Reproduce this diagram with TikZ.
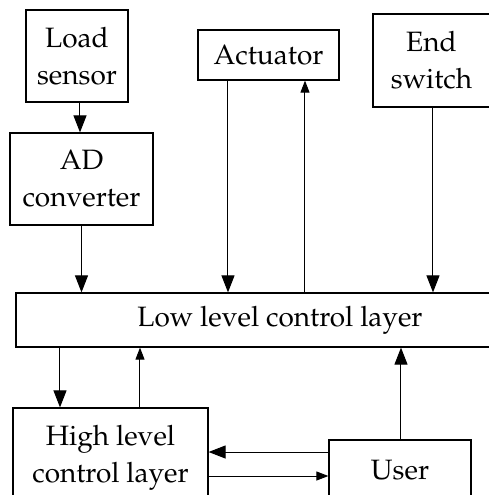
\documentclass[tikz,border=0pt]{standalone}
\usepackage[T1]{fontenc}
\usepackage{mathpazo}
\usetikzlibrary{shapes}
\usetikzlibrary{arrows.meta}
\tikzset{
	blocknode/.style = {rectangle, draw=black, line width=0.6pt, align=center,
		inner sep=0pt, text centered, font=\fontsize{14}{18.5}\selectfont},
	flow_big/.style = {-{Triangle[length=8.5pt,width=6.5pt]}, line width=0.5pt},% signal, big tip
	flow_small/.style = {-{Triangle[length=6pt,width=4.5pt]}, line width=0.5pt}% signal, small tip
}
\begin{document}
\begin{tikzpicture}[x=0.5pt,y=-0.5pt]
	\useasboundingbox (0,0) rectangle (489,495);
	\node [blocknode, minimum width=51pt, minimum height=46pt] (load) at (77,56) {Load\\sensor};
	\node [blocknode, minimum width=71.5pt, minimum height=46pt] (ad) at (81.5,179) {AD\\converter};
	\node [blocknode, minimum width=70.5pt, minimum height=25pt] (act) at (268.5,55) {Actuator};
	\node [blocknode, minimum width=58.5pt, minimum height=46.5pt] (endsw) at (431.5,60.5) {End\\switch};
	\node [blocknode, minimum width=264pt, minimum height=27pt] (low) at (280,320) {Low level control layer};
	\node [blocknode, minimum width=97.5pt, minimum height=50pt] (high) at (110.5,458) {High level\\control layer};
	\node [blocknode, minimum width=71pt, minimum height=30pt] (user) at (400,470) {User};

	\draw [flow_big] ([shift={(3,0)}]load.south) -- ([shift={(3,0)}]load.south |- ad.north);
	\draw [flow_big] (ad.south) -- (ad.south |- low.north);
	\draw [flow_big] ([shift={(-40.5,0)}]act.south) -- ([shift={(-40.5,0)}]act.south |- low.north);
	\draw [flow_small] ([shift={(36.5,0)}]act.south |- low.north) -- ([shift={(36.5,0)}]act.south);
	\draw [flow_big] ([shift={(1.5,0)}]endsw.south) -- ([shift={(1.5,0)}]endsw.south |- low.north);
	\draw [flow_big] ([shift={(-50.5,0)}]high.north |- low.south) -- ([shift={(-50.5,0)}]high.north);
	\draw [flow_small] ([shift={(29.5,0)}]high.north) -- ([shift={(29.5,0)}]high.north |- low.south);
	\draw [flow_big] ([shift={(1,0)}]user.north) -- ([shift={(1,0)}]user.north |- low.south);
	\draw [flow_big] ([shift={(0,-18)}]user.west) -- ([shift={(0,-18)}]user.west -| high.east);
	\draw [flow_small] ([shift={(0,6)}]user.west -| high.east) -- ([shift={(0,6)}]user.west);
\end{tikzpicture}
\end{document}
